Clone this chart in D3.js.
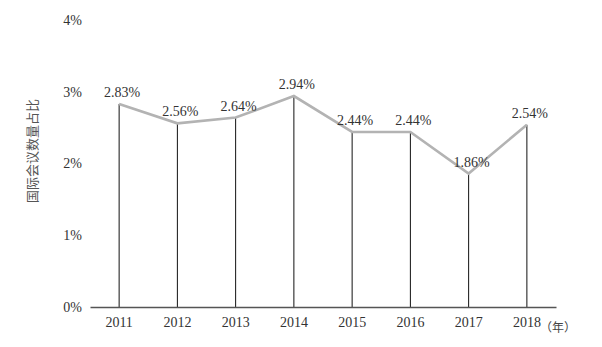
<!DOCTYPE html>
<html><head><meta charset="utf-8">
<script src="https://cdn.jsdelivr.net/npm/d3@7"></script>
<style>
body{margin:0;background:#fff}svg{display:block}
.serif{font-family:"Liberation Serif","Times New Roman",Times,serif}
</style>
</head><body>
<svg id="c" width="602" height="347"></svg>
<script>
const years = ["2011","2012","2013","2014","2015","2016","2017","2018"];
const shares = [2.83, 2.56, 2.64, 2.94, 2.44, 2.44, 1.86, 2.54];
const labels = ["2.83%","2.56%","2.64%","2.94%","2.44%","2.44%","1.86%","2.54%"];
const yTicks = [0, 1, 2, 3, 4];
const yTitle = "国际会议数量占比";
const xUnit = "（年）";

const svg = d3.select("#c");
const x = d3.scaleBand().domain(years).range([90, 556]);
const y = d3.scaleLinear().domain([0, 4]).range([307, 20]);

// y tick labels
const ya = svg.append("g").attr("transform","translate(82,0)")
  .call(d3.axisLeft(y).tickValues(yTicks).tickFormat(d => d + "%").tickSize(0).tickPadding(0));
ya.select(".domain").remove();
ya.attr("font-family", null);
ya.selectAll("text").attr("class","serif").attr("font-size", 14).attr("fill", "#333");

// y title
svg.append("text").attr("transform","translate(37,151) rotate(-90)")
  .attr("text-anchor","middle").attr("font-family","Noto Sans CJK SC, sans-serif")
  .attr("font-size",13).attr("fill","#555").text(yTitle);

// drop lines
const cx = d => x(d) + x.bandwidth()/2;
svg.append("g").selectAll("line").data(years).join("line")
  .attr("x1", d => cx(d)).attr("x2", d => cx(d))
  .attr("y1", (d,i) => y(shares[i])).attr("y2", y(0))
  .attr("stroke","#111").attr("stroke-width",1);

// x axis
const xa = svg.append("g").attr("transform",`translate(0,${y(0)})`)
  .call(d3.axisBottom(x).tickSize(0).tickPadding(10));
xa.attr("font-family", null);
xa.select(".domain").attr("stroke","#555").attr("stroke-width",1.3);
xa.selectAll("text").attr("class","serif").attr("font-size", 14).attr("fill", "#333");
svg.append("text").attr("x", cx("2018") + 13).attr("y", y(0) + 25)
  .attr("font-family","Noto Sans CJK SC, sans-serif").attr("font-size",12).attr("fill","#444").text(xUnit);

// line
svg.append("path").datum(years)
  .attr("d", d3.line().x(d => cx(d)).y((d,i) => y(shares[i])))
  .attr("fill","none").attr("stroke","#b3b3b3").attr("stroke-width",2.6);

// value labels
svg.append("g").selectAll("text").data(years).join("text")
  .attr("class","serif")
  .attr("x", d => cx(d) + 3).attr("y", (d,i) => y(shares[i]) - 7)
  .attr("text-anchor","middle").attr("font-size", 14).attr("fill","#333")
  .text((d,i) => labels[i]);
</script>
</body></html>
